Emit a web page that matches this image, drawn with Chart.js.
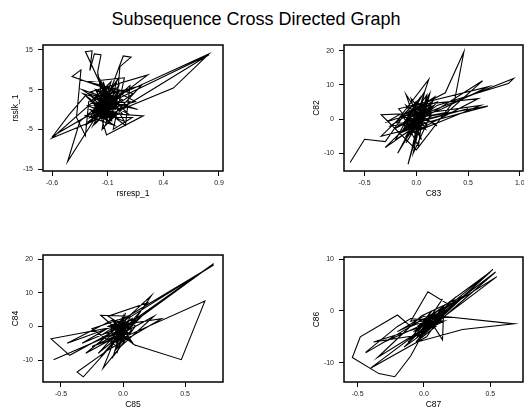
<!DOCTYPE html>
<html>
<head>
<meta charset="utf-8">
<script src="https://cdn.jsdelivr.net/npm/chart.js@4"></script>
<style>
  body { margin: 0; background: #fff; width: 524px; height: 411px; position: relative; overflow: hidden; }
  #title { position: absolute; left: 0; top: 10px; width: 512px; text-align: center;
           font: 18px "Liberation Sans", Arial, sans-serif; line-height: 18px; color: #000; }
  canvas { position: absolute; }
</style>
</head>
<body>
<div id="title">Subsequence Cross Directed Graph</div>
<canvas id="p1" width="262" height="190" style="left:0;top:30px;width:262px;height:190px"></canvas>
<canvas id="p2" width="262" height="190" style="left:262px;top:30px;width:262px;height:190px"></canvas>
<canvas id="p3" width="262" height="191" style="left:0;top:220px;width:262px;height:191px"></canvas>
<canvas id="p4" width="262" height="191" style="left:262px;top:220px;width:262px;height:191px"></canvas>
<script>
// rsresp_1 (x) vs rsslk_1 (y)
const panel1Points = [
  [-0.6,-7], [-0.45,-1.4], [-0.3,3.5], [-0.1,-2], [0.0,6], [-0.2,0], [-0.05,3], [0.81,14], [0.49,5.4],
  [-0.6,-7.2], [-0.15,4], [-0.25,-3], [-0.02,7], [-0.12,-4], [0.1,2], [-0.28,1], [0.05,-3], [-0.18,8],
  [-0.08,-1], [0.22,-1.6], [-0.11,-6.4], [-0.2,2], [0.0,-2.5],
  [-0.2,3], [-0.05,-1], [-0.15,6], [-0.1,-3], [-0.22,1], [0.0,3], [-0.17,-2], [-0.07,7], [-0.25,2],
  [-0.02,-2], [-0.14,4], [-0.09,0], [-0.19,-3], [-0.04,4], [-0.16,1], [-0.11,5], [-0.24,-1], [0.02,1],
  [-0.32,4], [0.06,-4], [0.1,6], [-0.3,-4], [0.13,4], [-0.28,7], [0.05,8], [-0.05,-5], [0.12,-2],
  [-0.13,-2], [-0.08,3], [-0.21,5], [-0.06,-3], [-0.18,2], [-0.1,6], [-0.03,0], [-0.15,-1], [-0.12,3],
  [-0.33,5], [-0.06,0], [-0.3,14.6], [-0.24,14.8], [-0.26,9.8], [-0.22,14], [-0.16,13.8], [-0.19,9.5],
  [-0.14,1], [-0.23,-4], [0.02,4], [-0.42,8.3], [-0.34,10], [-0.38,-2], [-0.3,-6.6], [-0.27,2], [-0.05,5],
  [-0.46,-13.1], [-0.35,-3], [-0.1,3], [0.04,13.5], [0.11,13.2], [0.01,10.8], [-0.02,1], [-0.2,-1],
  [0.26,8.7], [-0.25,4.5], [0.0,0], [-0.15,-5], [-0.09,5.5], [0.15,2], [-0.3,-1.5], [-0.04,-4],
  [-0.26,0], [-0.05,2], [-0.2,-2], [0.01,5], [-0.11,-1], [-0.17,4], [-0.07,1], [-0.23,3], [-0.09,-2],
  [-0.14,7], [-0.04,-1], [-0.19,1], [-0.1,2], [0.08,5], [-0.27,-3], [0.03,-1],
  [-0.17,6], [0.08,-1], [-0.22,3], [0.2,6], [-0.1,-3], [-0.2,5], [0.03,2.5], [-0.26,-2], [0.0,8],
  [-0.13,2], [0.17,0], [-0.27,4], [-0.08,-1.5], [0.81,13.8], [-0.06,2], [-0.6,-6.8], [-0.12,1]
];
// C83 (x) vs C82 (y)
const panel2Points = [
  [-0.64,-12.7], [-0.5,-5.9], [-0.3,-6.6], [-0.1,2], [0.05,-6], [-0.1,7.2], [0.1,-2], [-0.2,-1],
  [0.12,11.6], [-0.05,-4], [0.2,5], [-0.15,1], [0.28,7.7], [0.46,19.7], [0.37,5.5], [0.0,-9],
  [-0.34,1.3], [-0.15,1.5], [-0.3,-1], [0.08,3], [-0.18,-10], [0.1,6], [-0.08,-13.2], [0.05,2], [-0.3,-8.3],
  [-0.05,-3], [0.08,4], [-0.12,-1], [0.03,6], [-0.08,-5], [0.12,3], [-0.02,-2], [0.06,1], [-0.15,-4],
  [0.1,7], [0.0,-6], [-0.06,2], [0.15,5], [-0.1,-7], [0.04,0],
  [-0.1,-3], [0.64,11.2], [0.3,2], [-0.05,0], [0.94,11.9], [0.89,10.4], [0.2,4], [-0.15,-4], [0.1,-1],
  [0.69,3.8], [0.15,1], [-0.2,-6], [0.0,5], [-0.34,-5], [0.05,-2], [0.13,7.5], [-0.1,-5], [0.6,6],
  [-0.03,4], [0.09,-3], [-0.13,1], [0.02,-8], [0.07,3], [-0.07,-2], [0.14,2], [-0.01,5], [-0.11,-3],
  [0.05,-1], [0.11,6], [-0.04,-4], [0.01,2], [-0.09,0], [0.17,4],
  [0.0,-1], [-0.25,-2], [0.18,6.5], [-0.03,-7], [0.08,8], [-0.12,-2], [0.5,3], [0.1,0], [-0.05,6],
  [0.02,-4], [-0.17,3], [0.7,9.5], [0.25,3], [-0.08,-1], [0.12,4], [-0.22,-3], [0.04,1], [-0.03,-10],
  [0.15,2], [0.62,4], [0.05,-3], [-0.1,4], [0.2,-2]
];
// C85 (x) vs C84 (y)
const panel3Points = [
  [-0.56,-9.9], [0.0,-1], [0.73,18.6], [-0.1,-3], [0.05,2], [-0.2,-8], [0.1,1], [-0.58,-3.7],
  [-0.43,-8.6], [-0.1,-2], [0.23,9.2], [-0.05,-6], [-0.25,-0.7], [0.05,3], [-0.18,3.3], [0.08,-5],
  [-0.05,2], [0.03,-4], [-0.1,-1], [0.06,1], [-0.03,-6], [0.0,3], [-0.08,-3], [0.05,-2], [-0.12,0],
  [0.02,2], [-0.06,-7], [0.07,-1], [-0.02,1], [-0.1,-5],
  [0.66,7.5], [0.47,-9.9], [0.09,-5.5], [-0.1,0], [0.31,2.3], [-0.12,-7], [-0.37,-13.6], [-0.32,-15],
  [-0.05,-4], [0.02,4], [-0.16,-12.4], [-0.02,-6], [0.25,3], [-0.3,-8], [0.0,1], [-0.08,-9], [0.1,0],
  [0.04,3], [-0.04,-2], [0.01,-5], [-0.07,1], [0.06,-3], [-0.09,2], [0.0,-1], [-0.03,-4], [0.08,1],
  [-0.11,-3], [0.02,0], [-0.05,-8], [0.05,2], [-0.01,-2],
  [-0.15,-2], [0.73,18.2], [-0.05,1], [-0.33,-5], [0.12,2], [-0.02,-3], [-0.25,-6], [0.05,-1],
  [-0.12,3], [0.2,7], [-0.18,-9], [0.03,0], [-0.06,-5], [0.15,3], [-0.45,-5], [-0.08,2], [0.04,-3],
  [-0.14,-4], [0.08,2.5], [-0.04,-1]
];
// C87 (x) vs C86 (y)
const panel4Points = [
  [-0.44,-8], [-0.2,-3], [-0.1,-1.5], [0.1,-2], [0.52,8], [0.0,-3], [0.14,2.3], [-0.05,-5],
  [0.55,6.6], [0.2,1], [0.03,3.7], [-0.1,-2], [0.12,-1], [0.68,-2.5], [0.29,-3.6], [-0.05,-6],
  [0.05,-1], [-0.05,-4], [0.1,0], [0.0,-3], [0.12,-2], [-0.08,-5], [0.07,-1.5], [0.02,-4], [0.14,0.5],
  [-0.03,-2], [0.09,-3], [-0.06,-6], [0.11,-1],
  [-0.1,-3], [-0.2,-0.8], [-0.48,-5], [-0.54,-9], [-0.34,-12.1], [-0.22,-12.7],
  [-0.1,-8.7], [0.0,-4], [0.5,7.5], [0.1,0], [-0.44,-8.1], [-0.3,-6], [0.05,-2], [0.14,-5.6], [0.15,1],
  [0.04,-2.5], [-0.02,-5], [0.13,-0.5], [0.01,-2], [-0.07,-4], [0.08,-1], [0.03,-3.5], [0.15,-2],
  [-0.04,-3], [0.06,0], [-0.09,-5], [0.1,-2.5], [0.0,-1], [-0.2,-4], [0.05,-1],
  [-0.05,-3], [0.32,3.1], [-0.02,-1], [-0.35,-9], [0.06,-2.5], [0.24,2.7], [-0.15,-7], [0.12,-2],
  [-0.38,-6], [0.0,-4.5], [0.54,7.5], [0.08,-1.5], [-0.08,-4], [0.2,0.5], [-0.4,-11], [0.02,-5],
  [0.13,-1], [-0.12,-6]
];

const xTicks1 = [-0.6, -0.1, 0.4, 0.9];
const yTicks1 = [-15, -5, 5, 15];
const xTicks2 = [-0.5, 0.0, 0.5, 1.0];
const yTicks2 = [-10, 0, 10, 20];
const xTicks3 = [-0.5, 0.0, 0.5];
const yTicks3 = [-10, 0, 10, 20];
const xTicks4 = [-0.5, 0.0, 0.5];
const yTicks4 = [-10, 0, 10];

const fam = '"Liberation Sans", Arial, sans-serif';

// box round the plotting area
const frame = {
  id: 'frame',
  afterDatasetsDraw(chart) {
    const a = chart.chartArea, c = chart.ctx;
    c.save();
    c.strokeStyle = '#000';
    c.lineWidth = 1.5;
    c.strokeRect(a.left, a.top, a.right - a.left, a.bottom - a.top);
    c.restore();
  }
};

function panel(id, pts, xTicks, yTicks, xr, yr, xTitle, yTitle, pad) {
  new Chart(document.getElementById(id), {
    type: 'scatter',
    data: {
      datasets: [{
        data: pts.map(p => ({ x: p[0], y: p[1] })),
        showLine: true,
        borderColor: '#000',
        borderWidth: 1.1,
        pointRadius: 0,
        tension: 0
      }]
    },
    options: {
      responsive: false,
      animation: false,
      layout: { padding: pad },
      plugins: { legend: { display: false }, tooltip: { enabled: false } },
      scales: {
        x: {
          type: 'linear', min: xr[0], max: xr[1],
          afterBuildTicks: s => { s.ticks = xTicks.map(v => ({ value: v })); },
          afterFit: s => { s.height = 28; s.paddingLeft = 0; s.paddingRight = 0; },
          grid: { drawOnChartArea: false, tickLength: 5, color: '#000', lineWidth: 1 },
          border: { display: false },
          ticks: { callback: v => v.toFixed(1), font: { size: 7, family: fam }, color: '#222',
                   padding: 3, maxRotation: 0, autoSkip: false },
          title: { display: true, text: xTitle, font: { size: 8.5, family: fam }, color: '#000', padding: 0 }
        },
        y: {
          type: 'linear', min: yr[0], max: yr[1],
          afterBuildTicks: s => { s.ticks = yTicks.map(v => ({ value: v })); },
          afterFit: s => { s.width = 32; s.paddingTop = 0; s.paddingBottom = 0; },
          grid: { drawOnChartArea: false, tickLength: 5, color: '#000', lineWidth: 1 },
          border: { display: false },
          ticks: { callback: v => String(v), font: { size: 7, family: fam }, color: '#222',
                   padding: 5, autoSkip: false },
          title: { display: true, text: yTitle, font: { size: 8.5, family: fam }, color: '#000', padding: 0 }
        }
      }
    },
    plugins: [frame]
  });
}

panel('p1', panel1Points, xTicks1, yTicks1, [-0.681, 0.936], [-15.5, 16.26], 'rsresp_1', 'rsslk_1',
      { left: 11, right: 39, top: 15, bottom: 21 });
panel('p2', panel2Points, xTicks2, yTicks2, [-0.699, 1.031], [-15.18, 21.67], 'C83', 'C82',
      { left: 50, right: 1, top: 15, bottom: 21 });
panel('p3', panel3Points, xTicks3, yTicks3, [-0.645, 0.806], [-16.53, 21.19], 'C85', 'C84',
      { left: 11, right: 39, top: 35, bottom: 1 });
panel('p4', panel4Points, xTicks4, yTicks4, [-0.603, 0.747], [-13.72, 10.39], 'C87', 'C86',
      { left: 50, right: 1, top: 37, bottom: 1 });
</script>
</body>
</html>
